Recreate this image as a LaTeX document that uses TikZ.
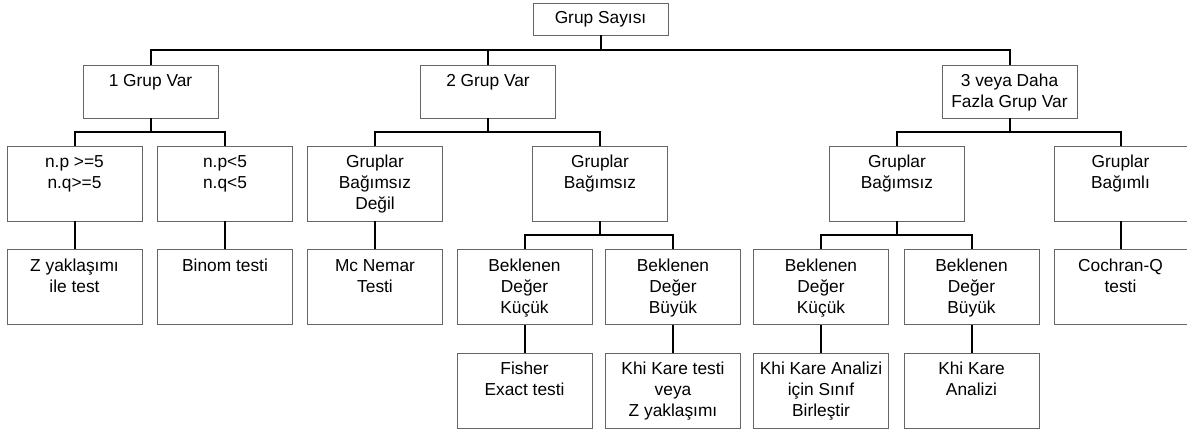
\documentclass[tikz,border=0pt]{standalone}
\usepackage{fontspec}
\setmainfont{Liberation Sans}
\usetikzlibrary{calc}
\tikzset{
  box/.style={draw=black!60, line width=0.7pt, rectangle, inner sep=0pt,
    minimum width=101.25pt, minimum height=56.25pt},
  rowa/.style={minimum height=39.75pt},
  topb/.style={minimum height=24pt},
  lbl/.style={inner sep=0pt, anchor=base, yshift=-16.6pt,
    font=\fontsize{13}{15.75}\selectfont},
  conn/.style={draw=black, line width=1.5pt}
}
\newcommand{\tx}[1]{\parbox[t]{100pt}{\centering #1}}
\begin{document}
\begin{tikzpicture}[x=0.75pt, y=-0.75pt]
\useasboundingbox[fill=white] (0,0) rectangle (1187,432);
% level 0
\node[box,topb,label={[lbl,yshift=0.6pt]north:{\tx{Grup Sayısı}}}] (gs) at (600.5,19) {};
% level 1
\node[box,rowa,label={[lbl]north:{\tx{1 Grup Var}}}] (g1) at (150.5,91.5) {};
\node[box,rowa,label={[lbl]north:{\tx{2 Grup Var}}}] (g2) at (488,91.5) {};
\node[box,rowa,label={[lbl]north:{\tx{3 veya Daha\\Fazla Grup Var}}}] (g3) at (1009.5,91.5) {};
% level 2
\node[box,label={[lbl]north:{\tx{n.p >=5\\n.q>=5}}}] (np) at (74.5,183.5) {};
\node[box,label={[lbl]north:{\tx{n.p<5\\n.q<5}}}] (nq) at (225,183.5) {};
\node[box,label={[lbl]north:{\tx{Gruplar\\Bağımsız\\Değil}}}] (bd) at (375,183.5) {};
\node[box,label={[lbl]north:{\tx{Gruplar\\Bağımsız}}}] (b2) at (600,183.5) {};
\node[box,label={[lbl]north:{\tx{Gruplar\\Bağımsız}}}] (b3) at (897,183.5) {};
\node[box,minimum width=99.75pt,label={[lbl]north:{\tx{Gruplar\\Bağımlı}}}] (bm) at (1120.5,183.5) {};
% level 3
\node[box,label={[lbl]north:{\tx{Z yaklaşımı\\ile test}}}] (z) at (74.5,287) {};
\node[box,label={[lbl]north:{\tx{Binom testi}}}] (bt) at (225,287) {};
\node[box,label={[lbl]north:{\tx{Mc Nemar\\Testi}}}] (mc) at (375,287) {};
\node[box,label={[lbl]north:{\tx{Beklenen\\Değer\\Küçük}}}] (k2) at (524.5,287) {};
\node[box,label={[lbl]north:{\tx{Beklenen\\Değer\\Büyük}}}] (y2) at (673,287) {};
\node[box,label={[lbl]north:{\tx{Beklenen\\Değer\\Küçük}}}] (k3) at (821,287) {};
\node[box,label={[lbl]north:{\tx{Beklenen\\Değer\\Büyük}}}] (y3) at (971.5,287) {};
\node[box,minimum width=99.75pt,label={[lbl]north:{\tx{Cochran-Q\\testi}}}] (cq) at (1120.5,287) {};
% level 4
\node[box,label={[lbl]north:{\tx{Fisher\\Exact testi}}}] (fe) at (524.5,390.5) {};
\node[box,label={[lbl]north:{\tx{Khi Kare testi\\veya\\Z yaklaşımı}}}] (kz) at (673,390.5) {};
\node[box,label={[lbl]north:{\tx{Khi Kare Analizi\\için Sınıf\\Birleştir}}}] (kb) at (821,390.5) {};
\node[box,label={[lbl]north:{\tx{Khi Kare\\Analizi}}}] (ka) at (971.5,390.5) {};
% connectors
\foreach \p/\c in {gs/g1, gs/g2, gs/g3, g1/np, g1/nq, g2/bd, g2/b2, g3/b3, g3/bm, b2/k2, b2/y2, b3/k3, b3/y3}{
  \draw[conn] (\p.south) |- ($(\p.south)!0.5!(\c.north)$) -| (\c.north);
}
\foreach \p/\c in {np/z, nq/bt, bd/mc, bm/cq, k2/fe, y2/kz, k3/kb, y3/ka}{
  \draw[conn] (\p.south) -- (\c.north);
}
\end{tikzpicture}
\end{document}
